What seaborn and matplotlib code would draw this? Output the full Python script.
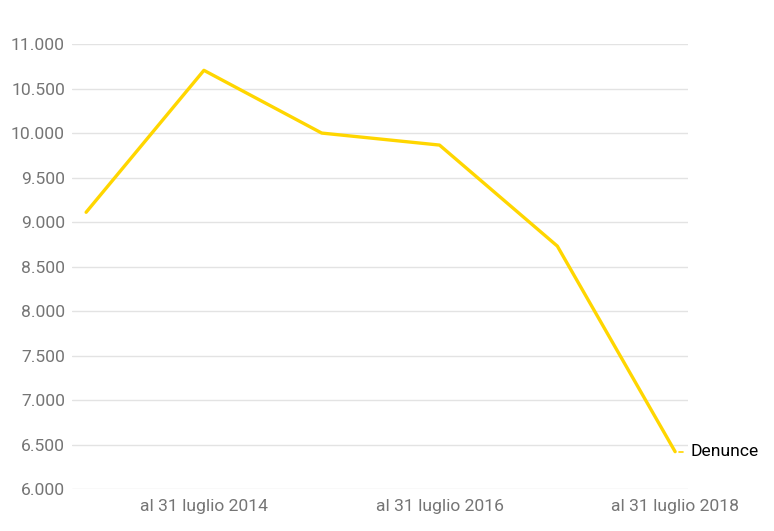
import numpy as np
import pandas as pd
import matplotlib
matplotlib.use("Agg")
import matplotlib.pyplot as plt
from matplotlib.ticker import FuncFormatter, MultipleLocator
import seaborn as sns

# dati
periodi = ["al 31 luglio 2013", "al 31 luglio 2014", "al 31 luglio 2015",
           "al 31 luglio 2016", "al 31 luglio 2017", "al 31 luglio 2018"]
denunce = [9110, 10705, 10000, 9865, 8730, 6420]
serie = "Denunce"

df = pd.DataFrame({"periodo": periodi, "valore": denunce})
df["pos"] = np.arange(len(df))

sns.set_theme(style="white")
plt.rcParams["font.family"] = ["Roboto", "DejaVu Sans"]

fig, ax = plt.subplots(figsize=(7.74, 5.31), dpi=100)
fig.subplots_adjust(left=0.093, right=0.889, top=0.917, bottom=0.079)

sns.lineplot(data=df, x="pos", y="valore", color="#FFD600", linewidth=2.4, ax=ax)

ax.set_xlim(-0.12, 5.11)
ax.set_ylim(6000, 11000)
ax.yaxis.set_major_locator(MultipleLocator(500))
ax.yaxis.set_major_formatter(FuncFormatter(lambda v, p: f"{v:,.0f}".replace(",", ".")))
ax.set_xticks(df["pos"][1::2])
ax.set_xticklabels(df["periodo"][1::2])

ax.grid(axis="y", color="#e3e3e3", linewidth=1)
ax.set_axisbelow(True)
for s in ax.spines.values():
    s.set_visible(False)
ax.tick_params(axis="both", length=0, labelsize=12.6, colors="#757575")
ax.tick_params(axis="y", pad=5)
ax.tick_params(axis="x", pad=7)
ax.set_xlabel("")
ax.set_ylabel("")

# etichetta della serie a fine linea
ax.annotate(serie, xy=(df["pos"].iloc[-1], df["valore"].iloc[-1]),
            xytext=(11, 0), textcoords="offset points", va="center", ha="left",
            fontsize=12.6, color="black", annotation_clip=False)
ax.plot([df["pos"].iloc[-1] + 0.035, df["pos"].iloc[-1] + 0.07],
        [df["valore"].iloc[-1]] * 2, color="#FFD600", linewidth=1.2, clip_on=False)

fig.savefig("out.png", dpi=100)
